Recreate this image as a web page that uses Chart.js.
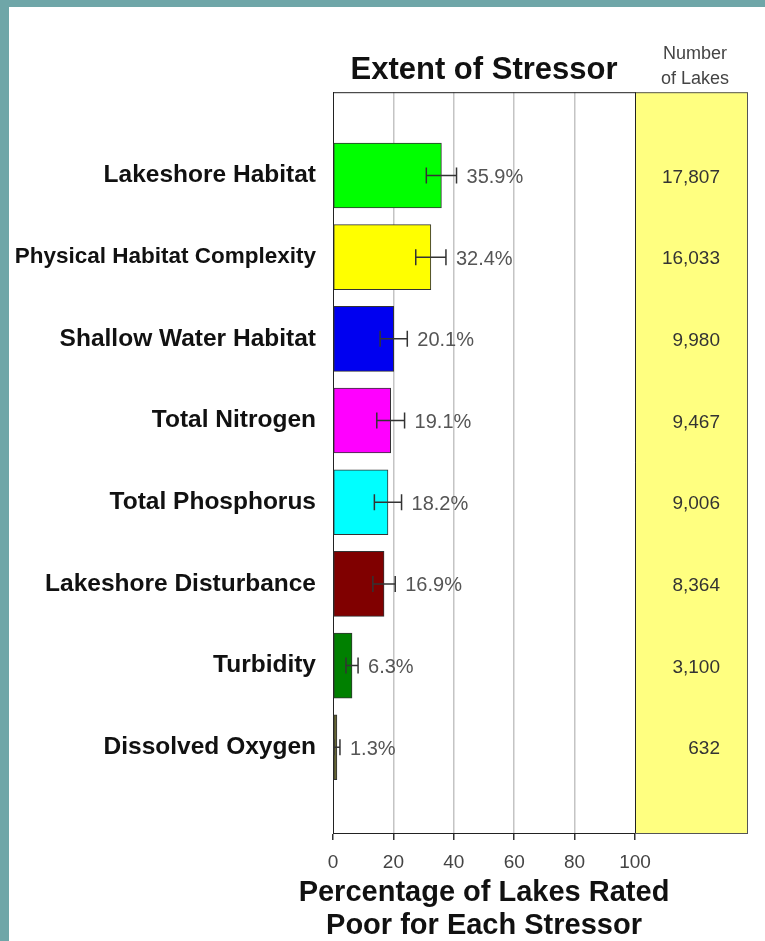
<!DOCTYPE html>
<html>
<head>
<meta charset="utf-8">
<script src="https://cdn.jsdelivr.net/npm/chart.js@4.4.1/dist/chart.umd.min.js"></script>
<style>
  html, body { margin: 0; padding: 0; }
  body { background: #6fa6a8; width: 765px; height: 941px; overflow: hidden; }
  #wrap { position: absolute; left: 9px; top: 7px; width: 756px; height: 934px; background: #fff; }
</style>
</head>
<body>
<div id="wrap"><canvas id="myChart" width="756" height="934"></canvas></div>
<script>
// stressor data
var stressors = ['Lakeshore Habitat', 'Physical Habitat Complexity', 'Shallow Water Habitat',
  'Total Nitrogen', 'Total Phosphorus', 'Lakeshore Disturbance', 'Turbidity', 'Dissolved Oxygen'];
var percentPoor = [35.9, 32.4, 20.1, 19.1, 18.2, 16.9, 6.3, 1.3];
var errMargin = [5.0, 5.0, 4.5, 4.6, 4.5, 3.7, 2.0, 1.0];
var lakeCounts = ['17,807', '16,033', '9,980', '9,467', '9,006', '8,364', '3,100', '632'];
var barColors = ['#00ff00', '#ffff00', '#0000f0', '#ff00ff', '#00ffff', '#800000', '#008000', '#666633'];
var xTicks = [0, 20, 40, 60, 80, 100];
var xTitle = ['Percentage of Lakes Rated', 'Poor for Each Stressor'];

var FONT = "'Liberation Sans', Arial, sans-serif";
var panelW = 113;

// yellow "Number of Lakes" column + frame
var lakesPanel = {
  id: 'lakesPanel',
  beforeDatasetsDraw: function(chart) {
    var c = chart.ctx, a = chart.chartArea;
    c.save();
    c.fillStyle = '#ffff80';
    c.fillRect(a.right, a.top, panelW, a.bottom - a.top);
    c.restore();
  },
  afterDraw: function(chart) {
    var c = chart.ctx, a = chart.chartArea;
    var y = chart.scales.y;
    c.save();
    c.strokeStyle = '#555';
    c.lineWidth = 1;
    c.strokeRect(a.right + 0.5, a.top + 0.5, panelW - 1, a.bottom - a.top);
    c.strokeStyle = '#222';
    c.beginPath();
    c.moveTo(a.left, a.top + 0.5);
    c.lineTo(a.right, a.top + 0.5);
    c.moveTo(a.right + 0.5, a.top);
    c.lineTo(a.right + 0.5, a.bottom);
    c.stroke();

    c.fillStyle = '#444';
    c.font = '18px ' + FONT;
    c.textAlign = 'center';
    c.textBaseline = 'middle';
    c.fillText('Number', a.right + 60, 47);
    c.fillText('of Lakes', a.right + 60, 72);

    c.fillStyle = '#333';
    c.font = '19px ' + FONT;
    c.textAlign = 'right';
    lakeCounts.forEach(function(n, i) {
      c.fillText(n, a.right + 85, y.getPixelForValue(i) + 2);
    });

    // x axis title (drawn here so it is not squeezed to the axis width)
    c.fillStyle = '#111';
    c.font = 'bold 29px ' + FONT;
    c.textAlign = 'center';
    var cx = (a.left + a.right) / 2;
    c.fillText(xTitle[0], cx, 886);
    c.fillText(xTitle[1], cx, 919);
    c.restore();
  }
};

// error bars and percent labels
var errorBars = {
  id: 'errorBars',
  afterDatasetsDraw: function(chart) {
    var c = chart.ctx;
    var x = chart.scales.x, y = chart.scales.y;
    c.save();
    c.strokeStyle = '#333';
    c.lineWidth = 1.5;
    percentPoor.forEach(function(v, i) {
      var py = y.getPixelForValue(i);
      var xl = x.getPixelForValue(v - errMargin[i]);
      var xr = x.getPixelForValue(v + errMargin[i]);
      c.beginPath();
      c.moveTo(xl, py); c.lineTo(xr, py);
      c.moveTo(xl, py - 8); c.lineTo(xl, py + 8);
      c.moveTo(xr, py - 8); c.lineTo(xr, py + 8);
      c.stroke();
      c.fillStyle = '#555';
      c.font = '20px ' + FONT;
      c.textAlign = 'left';
      c.textBaseline = 'middle';
      c.fillText(v.toFixed(1) + '%', xr + 10, py + 2);
    });
    c.restore();
  }
};

var ctx = document.getElementById('myChart').getContext('2d');
var myChart = new Chart(ctx, {
  type: 'bar',
  data: {
    datasets: [{
      data: stressors.map(function(s, i) { return { x: percentPoor[i], y: i }; }),
      backgroundColor: barColors,
      borderColor: '#333',
      borderWidth: 1,
      borderSkipped: false,
      barThickness: 65
    }]
  },
  options: {
    indexAxis: 'y',
    responsive: false,
    animation: false,
    devicePixelRatio: 1,
    layout: { padding: { right: 130, left: 0, top: 0, bottom: 0 } },
    plugins: {
      legend: { display: false },
      tooltip: { enabled: false },
      title: {
        display: true,
        fullSize: false,
        text: 'Extent of Stressor',
        color: '#111',
        font: { family: FONT, size: 31, weight: 'bold' },
        padding: { top: 45, bottom: 3 }
      }
    },
    scales: {
      x: {
        type: 'linear',
        min: 0,
        max: 100,
        afterBuildTicks: function(scale) {
          scale.ticks = xTicks.map(function(v) { return { value: v }; });
        },
        afterFit: function(scale) { scale.height = 108; },
        grid: {
          color: function(c) {
            return (c.tick && (c.tick.value === 0 || c.tick.value === 100)) ? 'rgba(0,0,0,0)' : '#c4c4c4';
          },
          lineWidth: 1.5,
          tickColor: '#333',
          tickLength: 7
        },
        border: { color: '#222', width: 1 },
        ticks: {
          color: '#444',
          padding: 11,
          maxRotation: 0,
          font: { family: FONT, size: 19 }
        },
        title: { display: false }
      },
      y: {
        type: 'linear',
        reverse: true,
        offset: false,
        min: -1.02,
        max: 8.05,
        afterBuildTicks: function(scale) {
          scale.ticks = stressors.map(function(s, i) { return { value: i }; });
        },
        afterFit: function(scale) { scale.width = 324; },
        grid: { display: false, drawTicks: false, offset: false },
        border: { color: '#222', width: 1 },
        ticks: {
          color: '#111',
          padding: 17,
          autoSkip: false,
          callback: function(v) { return stressors[v]; },
          font: function(c) {
            return { family: FONT, weight: 'bold', size: c.index === 1 ? 22.5 : 24.5 };
          }
        }
      }
    }
  },
  plugins: [lakesPanel, errorBars]
});
</script>
</body>
</html>
